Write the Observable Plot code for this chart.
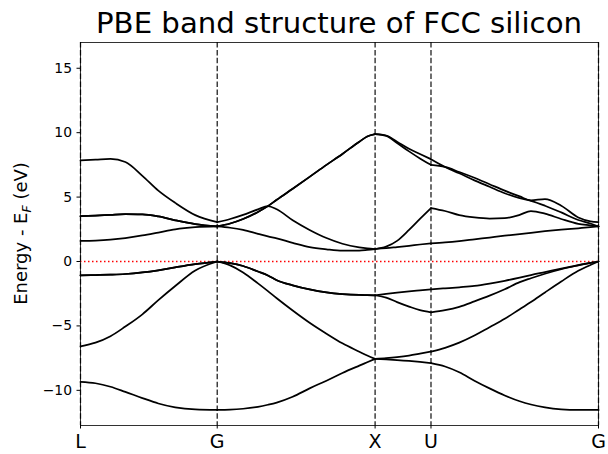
<!DOCTYPE html>
<html><head><meta charset="utf-8">
<script src="https://cdn.jsdelivr.net/npm/d3@7"></script>
<script src="https://cdn.jsdelivr.net/npm/@observablehq/plot@0.6"></script>
<style>html,body{margin:0;padding:0;background:#fff;}</style>
</head><body><div id="chart"></div>
<script>
const titleText = "PBE band structure of FCC silicon";
const kTicks = [0, 0.866, 1.866, 2.220, 3.281];
const kLabels = ["L", "G", "X", "U", "G"];
const yTicks = [-10, -5, 0, 5, 10, 15];

const kPath = [
  0, 0.095, 0.190, 0.284, 0.392, 0.493, 0.600, 0.727, 0.866,
  0.948, 1.030, 1.124, 1.187, 1.243, 1.344, 1.451, 1.558, 1.659, 1.766, 1.816, 1.866,
  1.936, 2.005, 2.081, 2.150, 2.220,
  2.309, 2.399, 2.495, 2.591, 2.687, 2.782, 2.853, 2.942, 3.045, 3.153, 3.230, 3.281
];

const band1 = [
  -9.34, -9.45, -9.72, -10.12, -10.6, -11.02, -11.32, -11.48, -11.52,
  -11.5, -11.43, -11.28, -11.12, -10.95, -10.5, -9.85, -9.25, -8.65, -8.08, -7.82, -7.56,
  -7.6, -7.65, -7.72, -7.8, -7.89,
  -8.15, -8.6, -9.25, -9.85, -10.4, -10.85, -11.1, -11.32, -11.47, -11.52, -11.52, -11.52
];
const band2 = [
  -6.58, -6.3, -5.8, -5.05, -4.1, -3.0, -1.9, -0.7, 0,
  -0.3, -0.85, -1.7, -2.3, -2.85, -3.8, -4.75, -5.6, -6.35, -7.0, -7.3, -7.56,
  -7.5, -7.42, -7.3, -7.15, -6.99,
  -6.7, -6.3, -5.75, -5.1, -4.45, -3.7, -3.15, -2.4, -1.55, -0.72, -0.27, 0
];
const band3 = [
  -1.07, -1.05, -1.02, -0.97, -0.85, -0.68, -0.45, -0.2, 0,
  -0.12, -0.35, -0.78, -1.08, -1.45, -1.85, -2.17, -2.4, -2.53, -2.6, -2.61, -2.62,
  -2.52, -2.42, -2.32, -2.24, -2.16,
  -2.08, -2.0, -1.9, -1.72, -1.5, -1.25, -1.05, -0.82, -0.55, -0.28, -0.1, 0
];
const band4 = [
  -1.07, -1.05, -1.02, -0.97, -0.85, -0.68, -0.45, -0.2, 0,
  -0.12, -0.35, -0.78, -1.08, -1.45, -1.85, -2.17, -2.4, -2.53, -2.6, -2.61, -2.62,
  -2.8, -3.15, -3.5, -3.78, -3.95,
  -3.78, -3.52, -3.1, -2.65, -2.15, -1.6, -1.3, -0.95, -0.6, -0.3, -0.1, 0
];
const band5 = [
  1.6, 1.63, 1.7, 1.82, 2.02, 2.25, 2.5, 2.66, 2.72,
  2.62, 2.45, 2.15, 1.95, 1.8, 1.45, 1.12, 0.95, 0.85, 0.85, 0.9, 0.97,
  1.03, 1.12, 1.22, 1.32, 1.41,
  1.48, 1.58, 1.72, 1.86, 2.0, 2.13, 2.23, 2.35, 2.47, 2.58, 2.66, 2.72
];
const band6 = [
  3.52, 3.56, 3.62, 3.67, 3.66, 3.5, 3.2, 2.9, 2.72,
  2.95, 3.3, 3.85, 4.3, 4.79, 5.65, 6.57, 7.5, 8.35, 9.3, 9.7, 9.88,
  9.78, 9.3, 8.75, 8.35, 7.94,
  7.34, 6.85, 6.3, 5.8, 5.3, 4.92, 4.71, 4.33, 3.81, 3.22, 2.95, 2.72
];
const band7 = [
  3.52, 3.56, 3.62, 3.67, 3.66, 3.5, 3.2, 2.9, 2.72,
  2.95, 3.3, 3.85, 4.3, 4.79, 5.65, 6.57, 7.5, 8.35, 9.3, 9.7, 9.88,
  9.75, 9.2, 8.55, 8.0, 7.5,
  7.34, 6.95, 6.5, 6.0, 5.5, 5.05, 4.75, 4.84, 4.33, 3.42, 3.12, 3.05
];
const band8 = [
  7.85, 7.9, 7.96, 7.72, 6.65, 5.5, 4.55, 3.6, 3.05,
  3.3, 3.62, 4.05, 4.3, 4.05, 3.2, 2.45, 1.82, 1.38, 1.1, 1.02, 0.97,
  1.15, 1.6, 2.45, 3.3, 4.15,
  3.92, 3.6, 3.42, 3.33, 3.36, 3.62, 3.92, 3.72, 3.3, 2.92, 2.8, 2.72
];

const bands = [band1, band2, band3, band4, band5, band6, band7, band8];
const rows = [];
bands.forEach((b, bi) => {
  for (let s = 0; s < kTicks.length - 1; s++) {
    kPath.forEach((k, i) => {
      if (k >= kTicks[s] - 1e-6 && k <= kTicks[s + 1] + 1e-6) rows.push({k, E: b[i], key: bi + "-" + s});
    });
  }
});

const plot = Plot.plot({
  width: 608, height: 454,
  marginLeft: 80, marginRight: 10, marginTop: 42, marginBottom: 29,
  style: {fontFamily: "DejaVu Sans", color: "black", background: "white", overflow: "visible"},
  x: {domain: [0, 3.281]},
  y: {domain: [-12.73, 17.0]},
  marks: [
    Plot.ruleX(kTicks, {stroke: "#222", strokeWidth: 1.3, strokeDasharray: "5.5,2.4"}),
    Plot.ruleY([0], {stroke: "red", strokeWidth: 1.5, strokeDasharray: "1.5,2.5"}),
    Plot.line(rows, {x: "k", y: "E", z: "key", stroke: "black", strokeWidth: 1.75, curve: "monotone-x"}),
    Plot.frame({stroke: "black", strokeWidth: 0.8}),
    Plot.axisY({ticks: yTicks, tickSize: 3.5, tickPadding: 5, fontSize: 13.9, label: null}),
    Plot.axisX({ticks: kTicks, tickFormat: d => kLabels[kTicks.indexOf(d)], tickSize: 3.5, tickPadding: 5, fontSize: 19, label: null})
  ]
});

const svg = d3.select(plot);
svg.append("text").attr("x", 339).attr("y", 33).attr("text-anchor", "middle")
  .attr("font-size", 29.2).attr("fill", "black").text(titleText);
const yl = svg.append("text").attr("transform", "translate(27,233.5) rotate(-90)")
  .attr("text-anchor", "middle").attr("font-size", 18).attr("fill", "black");
yl.append("tspan").text("Energy - E");
yl.append("tspan").attr("font-size", 12.5).attr("font-style", "italic").attr("dy", 4).text("F");
yl.append("tspan").attr("dy", -4).text(" (eV)");

document.getElementById("chart").append(plot);
</script>
</body></html>
